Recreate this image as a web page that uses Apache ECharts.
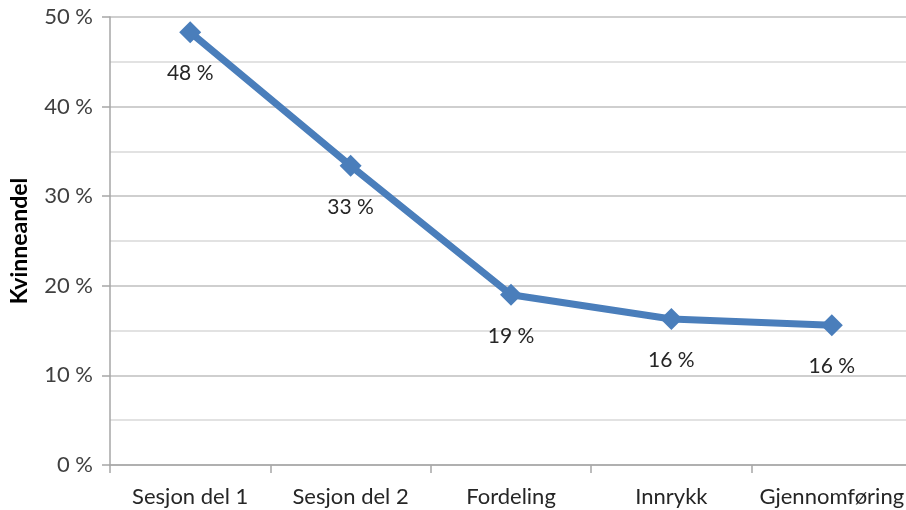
<!DOCTYPE html>
<html>
<head>
<meta charset="utf-8">
<style>
  html, body { margin: 0; padding: 0; background: #ffffff; overflow: hidden; }
  /* the plot runs slightly past the right edge of the window, so the canvas is a bit wider */
  #chart { width: 915px; height: 510px; }
</style>
<script src="https://cdn.jsdelivr.net/npm/echarts@6/dist/echarts.min.js"></script>
</head>
<body>
<div id="chart"></div>
<script>
// Stages of the recruitment process
const stages = ['Sesjon del 1', 'Sesjon del 2', 'Fordeling', 'Innrykk', 'Gjennomføring'];
// Share of women at each stage (percent)
const womenShare = [48.3, 33.4, 19.0, 16.3, 15.6];
// Value axis range (percent)
const yMin = 0;
const yMax = 50;
const yStep = 10;

const pct = v => Math.round(v) + '\u00a0%';
const fontFamily = 'Lato, Open Sans, Liberation Sans, sans-serif';

const chart = echarts.init(document.getElementById('chart'), null, { renderer: 'canvas' });
chart.setOption({
  backgroundColor: '#ffffff',
  animation: false,
  grid: { left: 106, top: 17, right: 3, bottom: 45, containLabel: false },
  xAxis: {
    type: 'category',
    data: stages,
    boundaryGap: true,
    axisLine: { show: true, lineStyle: { color: '#a6a6a6', width: 1.5 } },
    axisTick: { show: true, length: 8, lineStyle: { color: '#a6a6a6', width: 1.5 } },
    axisLabel: { color: '#262626', fontSize: 22, fontFamily, margin: 21, interval: 0 },
    splitLine: { show: false }
  },
  yAxis: {
    type: 'value',
    min: yMin,
    max: yMax,
    interval: yStep,
    name: 'Kvinneandel',
    nameLocation: 'middle',
    nameGap: 79,
    nameRotate: 90,
    nameTextStyle: { color: '#000000', fontSize: 23, fontWeight: 'bold', fontFamily },
    axisLine: { show: true, lineStyle: { color: '#a6a6a6', width: 1.5 } },
    axisTick: { show: true, length: 8, lineStyle: { color: '#a6a6a6', width: 1.5 } },
    axisLabel: { color: '#404040', fontSize: 22, fontFamily, margin: 17, formatter: v => v + '\u00a0%' },
    splitLine: { show: true, lineStyle: { color: '#bfbfbf', width: 1.5 } },
    minorTick: { show: false, splitNumber: 2 },
    minorSplitLine: { show: true, lineStyle: { color: '#d9d9d9', width: 1.5 } }
  },
  series: [{
    type: 'line',
    data: womenShare,
    symbol: 'diamond',
    symbolSize: 22,
    lineStyle: { color: '#4a7ebb', width: 7 },
    itemStyle: { color: '#4a7ebb' },
    label: {
      show: true,
      position: 'bottom',
      distance: 20,
      color: '#262626',
      fontSize: 21,
      fontFamily,
      formatter: p => pct(p.value)
    }
  }]
});
</script>
</body>
</html>
